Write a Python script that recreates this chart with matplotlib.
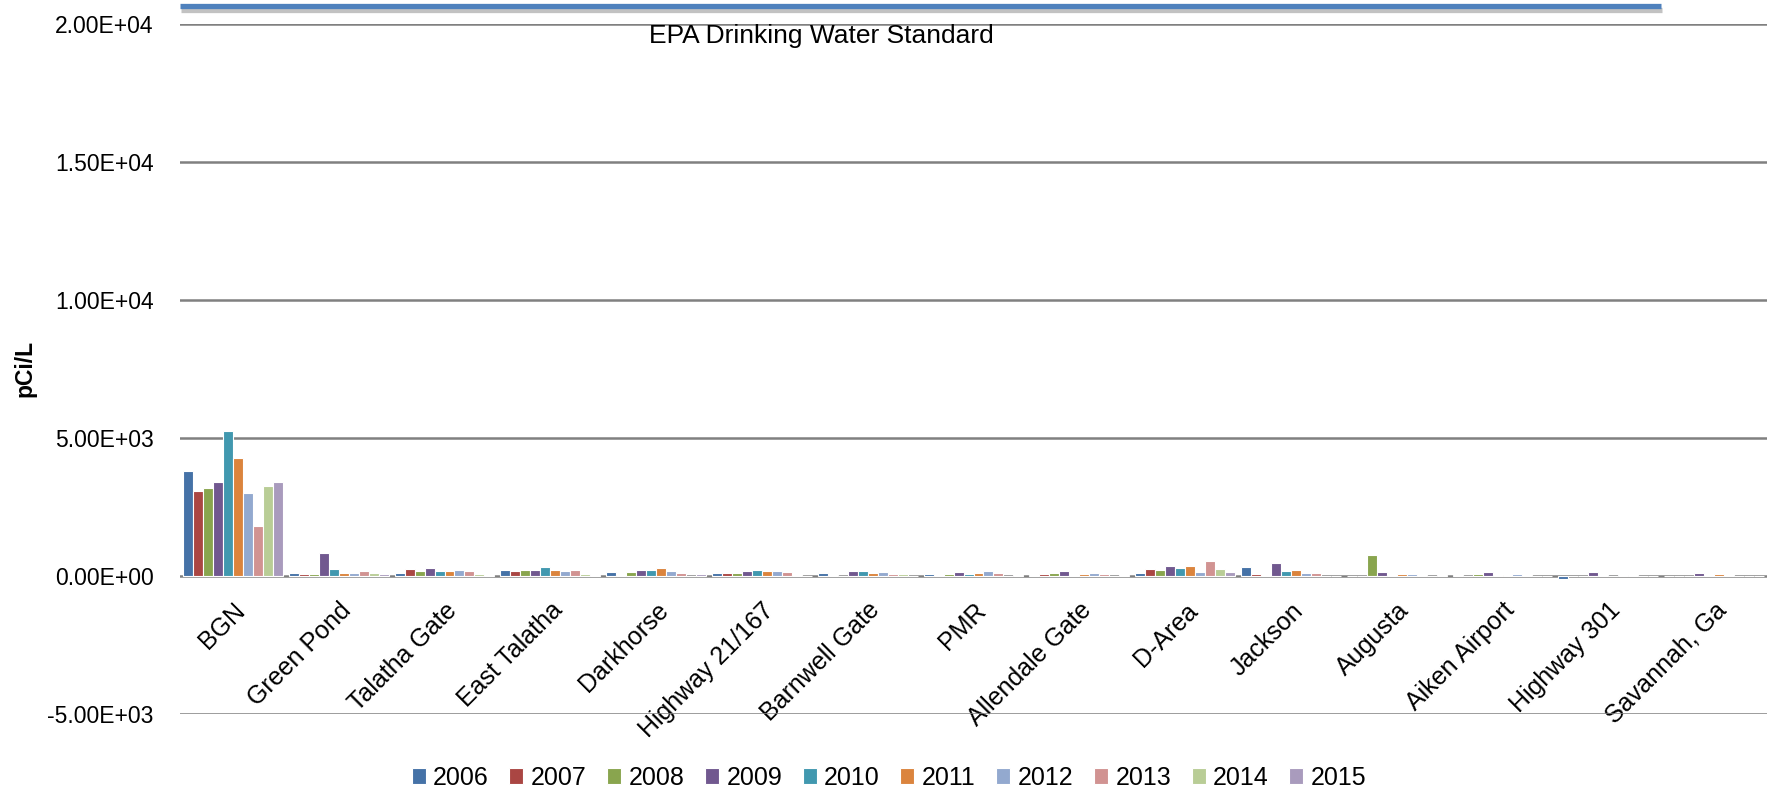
import numpy as np
import matplotlib.pyplot as plt
import matplotlib.patheffects as pe
from matplotlib.ticker import FuncFormatter
from matplotlib.transforms import blended_transform_factory

plt.rcParams['font.family'] = ['Liberation Sans', 'DejaVu Sans']

# ---------- Data (pCi/L) ----------
stations = ["BGN", "Green Pond", "Talatha Gate", "East Talatha", "Darkhorse",
            "Highway 21/167", "Barnwell Gate", "PMR", "Allendale Gate", "D-Area",
            "Jackson", "Augusta", "Aiken Airport", "Highway 301", "Savannah, Ga"]
years = ["2006", "2007", "2008", "2009", "2010",
         "2011", "2012", "2013", "2014", "2015"]

v2006 = [3815, 110, 110, 220, 155, 110, 110, 70, 35, 110, 340, 10, 25, -110, 10]
v2007 = [3075, 70, 265, 170, 35, 110, 35, 35, 70, 240, 60, 10, 10, 10, 10]
v2008 = [3195, 70, 170, 205, 145, 95, 10, 70, 95, 205, 25, 760, 60, 10, 10]
v2009 = [3390, 835, 280, 205, 215, 170, 180, 135, 195, 375, 460, 150, 155, 130, 95]
v2010 = [5265, 265, 180, 340, 205, 215, 170, 70, 50, 290, 170, 50, 25, 25, 25]
v2011 = [4285, 110, 170, 220, 300, 170, 95, 120, 70, 375, 220, 60, 50, 10, 60]
v2012 = [3015, 95, 220, 170, 180, 170, 145, 170, 110, 155, 110, 85, 60, 50, 35]
v2013 = [1815, 180, 180, 205, 95, 135, 70, 95, 85, 545, 110, 35, 50, 35, 10]
v2014 = [3270, 110, 60, 70, 15, 20, 60, 10, 10, 240, 10, 10, 10, 10, 10]
v2015 = [3410, 70, 35, 35, 70, 15, 10, 35, 35, 145, 10, 25, 10, 10, 10]
series = [v2006, v2007, v2008, v2009, v2010, v2011, v2012, v2013, v2014, v2015]

EPA_LEVEL = 20650   # where the standard line sits on the chart
EPA_LABEL = "EPA Drinking Water Standard"

colors = ["#4572A7", "#AA4643", "#89A54E", "#71588F", "#4198AF",
          "#DB843D", "#93A9CF", "#D19392", "#B9CD96", "#A99BBD"]

# ---------- Plot ----------
fig = plt.figure(figsize=(17.77, 7.93), dpi=100)
ax = fig.add_axes([180 / 1777, 79 / 793, 1587 / 1777, 690 / 793])

x = np.arange(len(stations))
slot = 0.0945
for j, (yr, vals) in enumerate(zip(years, series)):
    ax.bar(x + (j - 4.5) * slot, vals, slot, color=colors[j],
           edgecolor="white", linewidth=0.8, label=yr, zorder=3)

ax.set_xlim(-0.5, len(stations) - 0.5)
ax.set_ylim(-5000, 20000)
ax.set_yticks(np.arange(-5000, 20001, 5000))
ax.yaxis.set_major_formatter(FuncFormatter(lambda v, p: "{:.2E}".format(v)))
ax.yaxis.grid(True, color="#808080", linewidth=1.8)
ax.set_axisbelow(True)
for s in ax.spines.values():
    s.set_visible(False)
ax.spines["bottom"].set_position(("data", 0))

ax.set_xticks(x)
ax.set_xticklabels(stations, rotation=45, ha="right", va="top",
                   rotation_mode="anchor", fontsize=18)
ax.tick_params(axis="x", length=0, pad=16)
ax.tick_params(axis="y", length=0, pad=19, labelsize=16.5)

# EPA standard line with a soft shadow
trans = blended_transform_factory(ax.transAxes, ax.transData)
ax.plot([0.0, 0.933], [EPA_LEVEL, EPA_LEVEL], transform=trans, clip_on=False,
        color="#4F81BD", linewidth=3.8, solid_capstyle="butt",
        path_effects=[pe.SimpleLineShadow(offset=(1, -3), shadow_color="#9a9a9a", alpha=0.6),
                      pe.Normal()])
ax.text(0.404, 19550, EPA_LABEL, transform=trans, ha="center", va="center",
        fontsize=19)

fig.text(0.014, 0.536, "pCi/L", rotation=90, fontweight="bold",
         fontsize=16.5, ha="center", va="center")

fig.legend(loc="center", bbox_to_anchor=(0.5003, 0.019), ncol=10, frameon=False,
           fontsize=18, handlelength=0.56, handleheight=0.56,
           handletextpad=0.3, columnspacing=0.82)

fig.savefig("out.png", dpi=100)
